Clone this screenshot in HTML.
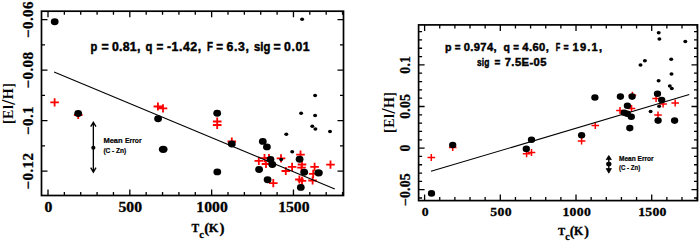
<!DOCTYPE html>
<html><head><meta charset="utf-8"><style>
html,body{margin:0;padding:0;background:#fff;width:700px;height:248px;overflow:hidden}
svg{display:block}
.t{font-family:"Liberation Sans",sans-serif;font-weight:bold}
.s{font-family:"Liberation Serif",serif;font-weight:bold}
</style></head><body>
<svg width="700" height="248" viewBox="0 0 700 248">
<rect width="700" height="248" fill="#fff"/>
<rect x="41.5" y="11.2" width="302" height="184.3" fill="none" stroke="#000" stroke-width="1.7"/>
<path d="M48 195.5V189.5M48 11.2V17.2M64.36 195.5V192M64.36 11.2V14.7M80.73 195.5V192M80.73 11.2V14.7M97.09 195.5V192M97.09 11.2V14.7M113.46 195.5V192M113.46 11.2V14.7M129.82 195.5V189.5M129.82 11.2V17.2M146.18 195.5V192M146.18 11.2V14.7M162.55 195.5V192M162.55 11.2V14.7M178.91 195.5V192M178.91 11.2V14.7M195.28 195.5V192M195.28 11.2V14.7M211.64 195.5V189.5M211.64 11.2V17.2M228 195.5V192M228 11.2V14.7M244.37 195.5V192M244.37 11.2V14.7M260.73 195.5V192M260.73 11.2V14.7M277.1 195.5V192M277.1 11.2V14.7M293.46 195.5V189.5M293.46 11.2V17.2M309.82 195.5V192M309.82 11.2V14.7M326.19 195.5V192M326.19 11.2V14.7M342.55 195.5V192M342.55 11.2V14.7M41.5 19.7H47.5M343.5 19.7H337.5M41.5 44.95H45M343.5 44.95H340M41.5 70.2H47.5M343.5 70.2H337.5M41.5 95.45H45M343.5 95.45H340M41.5 120.7H47.5M343.5 120.7H337.5M41.5 145.95H45M343.5 145.95H340M41.5 171.2H47.5M343.5 171.2H337.5" stroke="#000" stroke-width="1.3" fill="none"/>
<path d="M50.3 102.4H58.9M54.6 98.3V106.5M73.9 115H82.5M78.2 110.9V119.1M153.6 106.5H162.2M157.9 102.4V110.6M158.7 108.4H167.3M163 104.3V112.5M212.9 121.5H221.5M217.2 117.4V125.6M212.9 125H221.5M217.2 120.9V129.1M227.5 141.5H236.1M231.8 137.4V145.6M254.5 160.8H263.1M258.8 156.7V164.9M260.2 158.2H268.8M264.5 154.1V162.3M264.7 158H273.3M269 153.9V162.1M261.7 164H270.3M266 159.9V168.1M276.7 158.3H285.3M281 154.2V162.4M269 183.2H277.6M273.3 179.1V187.3M281.5 171H290.1M285.8 166.9V175.1M287.8 166.9H296.4M292.1 162.8V171M296.2 154.7H304.8M300.5 150.6V158.8M297.7 164.5H306.3M302 160.4V168.6M297.2 167.7H305.8M301.5 163.6V171.8M295.1 179.5H303.7M299.4 175.4V183.6M297.7 180.8H306.3M302 176.7V184.9M310.3 166.8H318.9M314.6 162.7V170.9M308.9 173.8H317.5M313.2 169.7V177.9M308.3 180.5H316.9M312.6 176.4V184.6M326.2 164.6H334.8M330.5 160.5V168.7" stroke="#f00" stroke-width="1.8" fill="none"/>
<ellipse cx="54.7" cy="21.8" rx="3.9" ry="3.45"/>
<ellipse cx="78.2" cy="113.5" rx="3.9" ry="3.45"/>
<ellipse cx="158.1" cy="118.7" rx="3.9" ry="3.45"/>
<ellipse cx="163.2" cy="149.3" rx="4.35" ry="3.6"/>
<ellipse cx="217.2" cy="113.2" rx="3.9" ry="3.45"/>
<ellipse cx="217.3" cy="171.9" rx="3.9" ry="3.45"/>
<ellipse cx="231.8" cy="144" rx="3.9" ry="3.45"/>
<ellipse cx="262.8" cy="141.4" rx="3.9" ry="3.45"/>
<ellipse cx="266.9" cy="146.9" rx="3.9" ry="3.45"/>
<ellipse cx="270.5" cy="159.5" rx="3.9" ry="3.45"/>
<ellipse cx="272.3" cy="164.5" rx="3.9" ry="3.45"/>
<ellipse cx="259.1" cy="169.5" rx="3.9" ry="3.45"/>
<ellipse cx="267.6" cy="179.8" rx="3.9" ry="3.45"/>
<ellipse cx="299.6" cy="159.3" rx="3.9" ry="3.45"/>
<ellipse cx="304.2" cy="172.3" rx="3.9" ry="3.45"/>
<ellipse cx="318.6" cy="172.8" rx="4.2" ry="3.6"/>
<ellipse cx="300.8" cy="187.4" rx="3.9" ry="3.45"/>
<ellipse cx="302.1" cy="19.2" rx="2" ry="1.75"/>
<ellipse cx="315.1" cy="95.5" rx="2" ry="1.75"/>
<ellipse cx="301.1" cy="113.3" rx="2" ry="1.75"/>
<ellipse cx="315.1" cy="115.5" rx="2" ry="1.75"/>
<ellipse cx="312.3" cy="126.3" rx="2" ry="1.75"/>
<ellipse cx="315.4" cy="129" rx="2" ry="1.75"/>
<ellipse cx="330" cy="131.4" rx="2" ry="1.75"/>
<ellipse cx="286.3" cy="134.2" rx="2" ry="1.75"/>
<ellipse cx="292.2" cy="151.8" rx="2" ry="1.75"/>
<ellipse cx="281.2" cy="159.5" rx="2" ry="1.75"/>
<path d="M54.1 71.9L334.8 189" stroke="#000" stroke-width="1.1" fill="none"/>
<rect x="418.6" y="24.9" width="278.9" height="175.7" fill="none" stroke="#000" stroke-width="1.7"/>
<path d="M424.6 200.6V194.6M424.6 24.9V30.9M439.74 200.6V197.1M439.74 24.9V28.4M454.88 200.6V197.1M454.88 24.9V28.4M470.02 200.6V197.1M470.02 24.9V28.4M485.16 200.6V197.1M485.16 24.9V28.4M500.31 200.6V194.6M500.31 24.9V30.9M515.45 200.6V197.1M515.45 24.9V28.4M530.59 200.6V197.1M530.59 24.9V28.4M545.73 200.6V197.1M545.73 24.9V28.4M560.87 200.6V197.1M560.87 24.9V28.4M576.01 200.6V194.6M576.01 24.9V30.9M591.15 200.6V197.1M591.15 24.9V28.4M606.29 200.6V197.1M606.29 24.9V28.4M621.43 200.6V197.1M621.43 24.9V28.4M636.57 200.6V197.1M636.57 24.9V28.4M651.72 200.6V194.6M651.72 24.9V30.9M666.86 200.6V197.1M666.86 24.9V28.4M682 200.6V197.1M682 24.9V28.4M697.14 200.6V197.1M697.14 24.9V28.4M418.6 198.02H422.1M697.5 198.02H694M418.6 189.7H424.6M697.5 189.7H691.5M418.6 181.38H422.1M697.5 181.38H694M418.6 173.06H422.1M697.5 173.06H694M418.6 164.74H422.1M697.5 164.74H694M418.6 156.42H422.1M697.5 156.42H694M418.6 148.1H424.6M697.5 148.1H691.5M418.6 139.78H422.1M697.5 139.78H694M418.6 131.46H422.1M697.5 131.46H694M418.6 123.14H422.1M697.5 123.14H694M418.6 114.82H422.1M697.5 114.82H694M418.6 106.5H424.6M697.5 106.5H691.5M418.6 98.18H422.1M697.5 98.18H694M418.6 89.86H422.1M697.5 89.86H694M418.6 81.54H422.1M697.5 81.54H694M418.6 73.22H422.1M697.5 73.22H694M418.6 64.9H424.6M697.5 64.9H691.5M418.6 56.58H422.1M697.5 56.58H694M418.6 48.26H422.1M697.5 48.26H694M418.6 39.94H422.1M697.5 39.94H694M418.6 31.62H422.1M697.5 31.62H694" stroke="#000" stroke-width="1.3" fill="none"/>
<path d="M427.5 157.6H435.1M431.3 154.1V161.1M448.9 147.5H456.5M452.7 144V151M522.8 153.7H530.4M526.6 150.2V157.2M527.7 152.4H535.3M531.5 148.9V155.9M577.8 141H585.4M581.6 137.5V144.5M591.5 125.5H599.1M595.3 122V129M616.2 110.6H623.8M620 107.1V114.1M627.7 108.5H635.3M631.5 105V112M628.6 95.3H636.2M632.4 91.8V98.8M652.3 98.5H659.9M656.1 95V102M659.3 104.1H666.9M663.1 100.6V107.6M671.4 103.1H679M675.2 99.6V106.6M654.2 115H661.8M658 111.5V118.5" stroke="#f00" stroke-width="1.5" fill="none"/>
<ellipse cx="431.5" cy="193.4" rx="3.65" ry="3.3"/>
<ellipse cx="452.7" cy="145" rx="3.65" ry="3.3"/>
<ellipse cx="531.5" cy="139.8" rx="3.65" ry="3.3"/>
<ellipse cx="526.3" cy="148.9" rx="3.65" ry="3.3"/>
<ellipse cx="581.6" cy="135.3" rx="3.65" ry="3.3"/>
<ellipse cx="594.9" cy="97.5" rx="3.65" ry="3.3"/>
<ellipse cx="620.4" cy="96.6" rx="3.65" ry="3.3"/>
<ellipse cx="632.1" cy="96.6" rx="3.65" ry="3.3"/>
<ellipse cx="627.4" cy="105.8" rx="3.65" ry="3.3"/>
<ellipse cx="624.2" cy="112.7" rx="3.65" ry="3.3"/>
<ellipse cx="631.3" cy="116.8" rx="3.65" ry="3.3"/>
<ellipse cx="629.8" cy="128.1" rx="3.65" ry="3.3"/>
<ellipse cx="657.5" cy="93.7" rx="3.65" ry="3.3"/>
<ellipse cx="661.7" cy="100.1" rx="3.65" ry="3.3"/>
<ellipse cx="658.1" cy="120.6" rx="3.65" ry="3.3"/>
<ellipse cx="674.6" cy="120.6" rx="3.65" ry="3.3"/>
<ellipse cx="627.3" cy="113.7" rx="3.65" ry="3.3"/>
<ellipse cx="658.7" cy="32.7" rx="2" ry="1.75"/>
<ellipse cx="659.4" cy="39" rx="2" ry="1.75"/>
<ellipse cx="685.3" cy="41.4" rx="2" ry="1.75"/>
<ellipse cx="671.2" cy="59.3" rx="2" ry="1.75"/>
<ellipse cx="644.9" cy="60.8" rx="2" ry="1.75"/>
<ellipse cx="640.5" cy="64.9" rx="2" ry="1.75"/>
<ellipse cx="671.5" cy="74.1" rx="2" ry="1.75"/>
<ellipse cx="658.6" cy="80.8" rx="2" ry="1.75"/>
<ellipse cx="669.8" cy="86" rx="2" ry="1.75"/>
<ellipse cx="671.8" cy="88.5" rx="2" ry="1.75"/>
<ellipse cx="659.1" cy="106.2" rx="2" ry="1.75"/>
<ellipse cx="650.6" cy="111.5" rx="2" ry="1.75"/>
<path d="M431 171.3L689.3 94.5" stroke="#000" stroke-width="1.1" fill="none"/>
<!-- axis labels -->
<text class="s" font-weight="normal" stroke="#000" stroke-width="0.3" font-size="15" letter-spacing="0.4" text-anchor="middle" transform="translate(33 19.5) rotate(-90)">&#8722;0.06</text>
<text class="s" font-weight="normal" stroke="#000" stroke-width="0.3" font-size="15" letter-spacing="0.4" text-anchor="middle" transform="translate(33 70) rotate(-90)">&#8722;0.08</text>
<text class="s" font-weight="normal" stroke="#000" stroke-width="0.3" font-size="15" letter-spacing="0.4" text-anchor="middle" transform="translate(33 120.5) rotate(-90)">&#8722;0.1</text>
<text class="s" font-weight="normal" stroke="#000" stroke-width="0.3" font-size="15" letter-spacing="0.4" text-anchor="middle" transform="translate(33 171) rotate(-90)">&#8722;0.12</text>
<text class="s" font-weight="normal" stroke="#000" stroke-width="0.3" font-size="13.8" letter-spacing="0.2" text-anchor="middle" transform="translate(410.3 64.8) rotate(-90)">0.1</text>
<text class="s" font-weight="normal" stroke="#000" stroke-width="0.3" font-size="13.8" letter-spacing="0.2" text-anchor="middle" transform="translate(410.3 106.4) rotate(-90)">0.05</text>
<text class="s" font-weight="normal" stroke="#000" stroke-width="0.3" font-size="13.8" letter-spacing="0.2" text-anchor="middle" transform="translate(410.3 148) rotate(-90)">0</text>
<text class="s" font-weight="normal" stroke="#000" stroke-width="0.3" font-size="13.8" letter-spacing="0.2" text-anchor="middle" transform="translate(410.3 189.6) rotate(-90)">&#8722;0.05</text>
<text class="s" font-weight="normal" stroke="#000" stroke-width="0.3" font-size="14" letter-spacing="0.0" text-anchor="middle" transform="translate(48.4 211.8) scale(1.12 1)">0</text>
<text class="s" font-weight="normal" stroke="#000" stroke-width="0.3" font-size="12.3" letter-spacing="0.25" text-anchor="middle" transform="translate(425.34 216) scale(1.12 1)">0</text>
<text class="s" font-weight="normal" stroke="#000" stroke-width="0.3" font-size="14" letter-spacing="0.0" text-anchor="middle" transform="translate(130.22 211.8) scale(1.12 1)">500</text>
<text class="s" font-weight="normal" stroke="#000" stroke-width="0.3" font-size="12.3" letter-spacing="0.25" text-anchor="middle" transform="translate(501.05 216) scale(1.12 1)">500</text>
<text class="s" font-weight="normal" stroke="#000" stroke-width="0.3" font-size="14" letter-spacing="0.0" text-anchor="middle" transform="translate(212.04 211.8) scale(1.12 1)">1000</text>
<text class="s" font-weight="normal" stroke="#000" stroke-width="0.3" font-size="12.3" letter-spacing="0.25" text-anchor="middle" transform="translate(576.75 216) scale(1.12 1)">1000</text>
<text class="s" font-weight="normal" stroke="#000" stroke-width="0.3" font-size="14" letter-spacing="0.0" text-anchor="middle" transform="translate(293.86 211.8) scale(1.12 1)">1500</text>
<text class="s" font-weight="normal" stroke="#000" stroke-width="0.3" font-size="12.3" letter-spacing="0.25" text-anchor="middle" transform="translate(652.46 216) scale(1.12 1)">1500</text>
<g class="s" font-size="14" letter-spacing="0.5">
<text transform="translate(13.2 124.1) rotate(-90)">[El<tspan font-size="18" dy="1.5">/</tspan><tspan dy="-1.5">H]</tspan></text>
<text transform="translate(393.8 133) rotate(-90)">[El<tspan font-size="18" dy="1.5">/</tspan><tspan dy="-1.5">H]</tspan></text>
</g>
<g class="s" font-weight="normal" stroke="#000" stroke-width="0.3">
<text x="191.6" y="232.1" font-size="11.5">T</text><text x="199.3" y="237.9" font-size="10.5">c</text><text x="204.2" y="233" font-size="15">(</text><text x="208.7" y="232.1" font-size="12.5">K</text><text x="219.6" y="233" font-size="15">)</text>
<text x="557.9" y="234.9" font-size="10.81">T</text><text x="565.14" y="240.35" font-size="9.87">c</text><text x="569.74" y="235.75" font-size="14.1">(</text><text x="573.97" y="234.9" font-size="11.75">K</text><text x="584.22" y="235.75" font-size="14.1">)</text>
</g>
<!-- stats text -->
<text class="t" font-size="12.3" x="90.6" y="50.8" textLength="6.8" lengthAdjust="spacingAndGlyphs" stroke="#000" stroke-width="0.45">p</text><text class="t" font-size="12.3" x="101.56" y="50.8" stroke="#000" stroke-width="0.45">=</text><text class="t" font-size="12.3" x="112" y="50.8" textLength="28.3" lengthAdjust="spacing" stroke="#000" stroke-width="0.45">0.81,</text><text class="t" font-size="12.3" x="145.4" y="50.8" textLength="6.9" lengthAdjust="spacingAndGlyphs" stroke="#000" stroke-width="0.45">q</text><text class="t" font-size="12.3" x="156.6" y="50.8" textLength="6.8" lengthAdjust="spacingAndGlyphs" stroke="#000" stroke-width="0.45">=</text><text class="t" font-size="12.3" x="166.9" y="50.8" textLength="34.2" lengthAdjust="spacing" stroke="#000" stroke-width="0.45">-1.42,</text><text class="t" font-size="12.3" x="206.9" y="50.8" textLength="6" lengthAdjust="spacingAndGlyphs" stroke="#000" stroke-width="0.45">F</text><text class="t" font-size="12.3" x="216.3" y="50.8" textLength="6.8" lengthAdjust="spacingAndGlyphs" stroke="#000" stroke-width="0.45">=</text><text class="t" font-size="12.3" x="226.6" y="50.8" textLength="22.3" lengthAdjust="spacing" stroke="#000" stroke-width="0.45">6.3,</text><text class="t" font-size="12.3" x="254" y="50.8" textLength="16.3" lengthAdjust="spacingAndGlyphs" stroke="#000" stroke-width="0.45">sig</text><text class="t" font-size="12.3" x="273.56" y="50.8" stroke="#000" stroke-width="0.45">=</text><text class="t" font-size="12.3" x="284" y="50.8" textLength="25.7" lengthAdjust="spacing" stroke="#000" stroke-width="0.45">0.01</text>
<text class="t" font-size="11.2" x="445.1" y="50.9" textLength="6.5" lengthAdjust="spacingAndGlyphs" stroke="#000" stroke-width="0.45">p</text><text class="t" font-size="11.2" x="454.8" y="50.9" textLength="5.8" lengthAdjust="spacingAndGlyphs" stroke="#000" stroke-width="0.45">=</text><text class="t" font-size="11.2" x="463.8" y="50.9" textLength="32.8" lengthAdjust="spacing" stroke="#000" stroke-width="0.45">0.974,</text><text class="t" font-size="11.2" x="503.6" y="50.9" textLength="6.4" lengthAdjust="spacingAndGlyphs" stroke="#000" stroke-width="0.45">q</text><text class="t" font-size="11.2" x="513.3" y="50.9" textLength="5.7" lengthAdjust="spacingAndGlyphs" stroke="#000" stroke-width="0.45">=</text><text class="t" font-size="11.2" x="522.3" y="50.9" textLength="26.5" lengthAdjust="spacing" stroke="#000" stroke-width="0.45">4.60,</text><text class="t" font-size="11.2" x="555.8" y="50.9" textLength="4.5" lengthAdjust="spacingAndGlyphs" stroke="#000" stroke-width="0.45">F</text><text class="t" font-size="11.2" x="563.6" y="50.9" textLength="5.1" lengthAdjust="spacingAndGlyphs" stroke="#000" stroke-width="0.45">=</text><text class="t" font-size="11.2" x="572.6" y="50.9" textLength="29.5" lengthAdjust="spacing" stroke="#000" stroke-width="0.45">19.1,</text>
<text class="t" font-size="11.2" x="477.1" y="65.9" textLength="12.2" lengthAdjust="spacingAndGlyphs" stroke="#000" stroke-width="0.45">sig</text><text class="t" font-size="11.2" x="494.4" y="65.9" textLength="5.8" lengthAdjust="spacingAndGlyphs" stroke="#000" stroke-width="0.45">=</text><text class="t" font-size="11.2" x="504.7" y="65.9" textLength="41.8" lengthAdjust="spacing" stroke="#000" stroke-width="0.45">7.5E-05</text>
<!-- mean error annotations -->
<g stroke="#000" fill="none" stroke-width="1.35">
<path d="M93.35 123V171.5M90.7 126.7L93.35 122.3L96 126.7M90.7 167.7L93.35 172.2L96 167.7"/>
<path d="M608.8 157V172"/>
</g>
<path d="M606.2 159.6L608.8 155.5L611.4 159.6ZM606.2 168.6L608.8 173.2L611.4 168.6Z" fill="#000" stroke="#000" stroke-width="0.8" stroke-linejoin="round"/>
<ellipse cx="93.35" cy="147.8" rx="2.1" ry="2"/>
<ellipse cx="608.8" cy="164.1" rx="2.7" ry="2.4"/>
<g class="t" font-size="7.4" lengthAdjust="spacingAndGlyphs" stroke="#000" stroke-width="0.2">
<text x="103.4" y="143" textLength="19.3" lengthAdjust="spacingAndGlyphs">Mean</text>
<text x="125" y="143" textLength="16.6" lengthAdjust="spacingAndGlyphs">Error</text>
<text x="103.4" y="152.6" textLength="22.9" lengthAdjust="spacingAndGlyphs">(C - Zn)</text>
</g>
<g class="t" font-size="6.7" stroke="#000" stroke-width="0.2">
<text x="619" y="160.8" textLength="34.6" lengthAdjust="spacingAndGlyphs">Mean Error</text>
<text x="619" y="170.2" textLength="21.2" lengthAdjust="spacingAndGlyphs">(C - Zn)</text>
</g>
</svg>
</body></html>
